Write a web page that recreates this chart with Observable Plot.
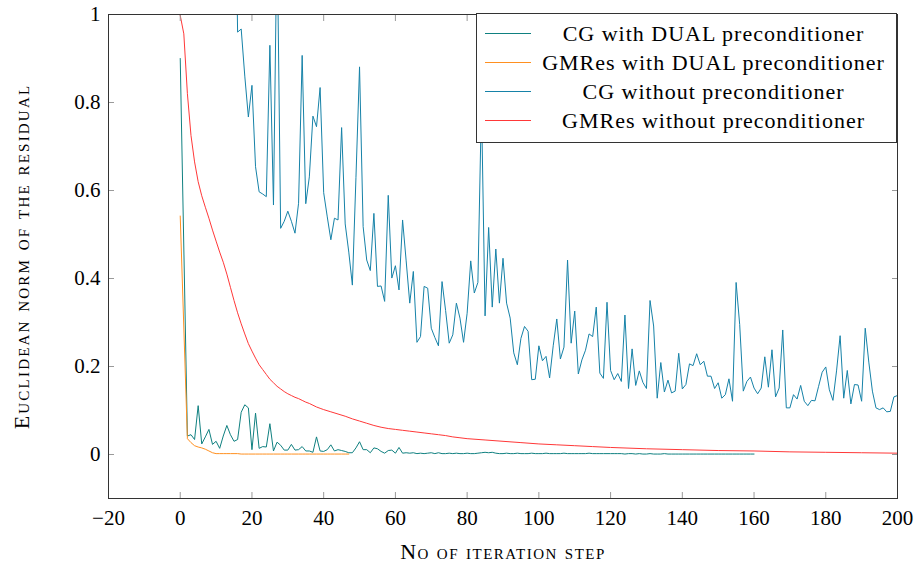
<!DOCTYPE html>
<html>
<head>
<meta charset="utf-8">
<script src="https://cdn.jsdelivr.net/npm/d3@7"></script>
<script src="https://cdn.jsdelivr.net/npm/@observablehq/plot@0.6"></script>
<style>
  html, body { margin: 0; padding: 0; background: #fff; }
  #wrap { position: relative; width: 917px; height: 566px; font-family: "Liberation Serif", serif; }
  #wrap svg text { font-family: "Liberation Serif", serif; }
  #legend { position: absolute; left: 476px; top: 13px; width: 421px; height: 130px; border: 1px solid #333; background: #fff; box-sizing: border-box; padding-top: 5px; }
  .row { display: flex; align-items: center; height: 29px; }
  .sample { width: 46px; margin-left: 8px; height: 0; border-top: 1.4px solid; }
  .lab { flex: 1; text-align: center; font-size: 22px; letter-spacing: 1px; color: #000; padding-left: 4px; padding-right: 4px; white-space: nowrap; }
</style>
</head>
<body>
<div id="wrap"></div>
<script>
// ---- tick labels / axis text ----
const xTicks = [-20, 0, 20, 40, 60, 80, 100, 120, 140, 160, 180, 200];
const yTicks = [0, 0.2, 0.4, 0.6, 0.8, 1];
const yTickLabels = ["0", "0.2", "0.4", "0.6", "0.8", "1"];
const xLabel = "No of iteration step";
const yLabel = "Euclidean norm of the residual";

// ---- series names / colours ----
const seriesNames = [
  "CG with DUAL preconditioner",
  "GMRes with DUAL preconditioner",
  "CG without preconditioner",
  "GMRes without preconditioner"
];
const seriesColors = ["#0f8080", "#ff9020", "#1682a8", "#ff3838"];

// ---- CG with DUAL preconditioner: step 0, then steps 2..160 ----
const cgDualSteps = [0, ...d3.range(2, 161)];
const cgDualValues = [
  0.900,
  0.042, 0.045, 0.034, 0.111, 0.024, 0.040, 0.057, 0.023, 0.030, 0.014,
  0.042, 0.066, 0.045, 0.030, 0.034, 0.096, 0.113, 0.106, 0.011, 0.094,
  0.014, 0.018, 0.017, 0.070, 0.008, 0.028, 0.021, 0.010, 0.010, 0.023,
  0.010, 0.011, 0.018, 0.008, 0.008, 0.005, 0.040, 0.008, 0.007, 0.011,
  0.022, 0.008, 0.011, 0.009, 0.007, 0.004, 0.004, 0.015, 0.029, 0.011,
  0.011, 0.004, 0.015, 0.013, 0.007, 0.003, 0.009, 0.010, 0.003, 0.016,
  0.003, 0.004, 0.003, 0.004, 0.002, 0.003, 0.002, 0.003, 0.004, 0.002,
  0.004, 0.002, 0.002, 0.003, 0.002, 0.003, 0.002, 0.002, 0.003, 0.002,
  0.002, 0.003, 0.004, 0.005, 0.004, 0.005, 0.003, 0.002, 0.002, 0.003,
  0.002, 0.002, 0.003, 0.002, 0.002, 0.002, 0.003, 0.002, 0.002, 0.002,
  0.003, 0.002, 0.002, 0.002, 0.002, 0.003, 0.002, 0.002, 0.002, 0.002,
  0.002, 0.002, 0.003, 0.002, 0.002, 0.002, 0.002, 0.002, 0.002, 0.002,
  0.002, 0.002, 0.001, 0.002, 0.002, 0.001, 0.002, 0.001, 0.001, 0.002,
  0.001, 0.001, 0.001, 0.002, 0.001, 0.001, 0.001, 0.001, 0.001, 0.001,
  0.001, 0.001, 0.001, 0.001, 0.001, 0.001, 0.001, 0.001, 0.001, 0.001,
  0.001, 0.001, 0.001, 0.001, 0.001, 0.001, 0.001, 0.001, 0.001
];

// ---- GMRes with DUAL preconditioner: step 0, then steps 2..47 ----
const gmDualSteps = [0, ...d3.range(2, 48)];
const gmDualValues = [
  0.542,
  0.036, 0.027, 0.020, 0.017, 0.015, 0.012, 0.008, 0.004, 0.002, 0.002,
  0.002, 0.002, 0.002, 0.002, 0.002, 0.001, 0.001, 0.001, 0.001, 0.001,
  0.001, 0.001, 0.001, 0.001, 0.001, 0.001, 0.001, 0.001, 0.001, 0.001,
  0.001, 0.001, 0.001, 0.001, 0.001, 0.001, 0.001, 0.001, 0.001, 0.001,
  0.001, 0.001, 0.001, 0.001, 0.001, 0.001
];

// ---- CG without preconditioner: steps 15..200 ----
const cgPlainSteps = d3.range(15, 201);
const cgPlainValues = [
  1.500, 0.960, 0.967, 0.860, 0.767, 0.839, 0.654, 0.597, 0.592, 0.586,   // 15-24
  0.930, 0.567, 1.200, 0.514, 0.530, 0.553, 0.530, 0.503, 0.571, 0.907,   // 25-34
  0.570, 0.631, 0.769, 0.745, 0.834, 0.595, 0.540, 0.488, 0.537, 0.533,   // 35-44
  0.743, 0.524, 0.460, 0.385, 0.630, 0.881, 0.518, 0.442, 0.418, 0.548,   // 45-54
  0.382, 0.383, 0.348, 0.589, 0.401, 0.429, 0.374, 0.533, 0.440, 0.344,   // 55-64
  0.416, 0.255, 0.268, 0.382, 0.378, 0.287, 0.266, 0.247, 0.393, 0.327,   // 65-74
  0.253, 0.272, 0.344, 0.310, 0.255, 0.321, 0.440, 0.367, 0.391, 0.800,   // 75-84
  0.315, 0.516, 0.335, 0.467, 0.344, 0.446, 0.344, 0.310, 0.231, 0.204,   // 85-94
  0.264, 0.291, 0.280, 0.170, 0.171, 0.247, 0.213, 0.223, 0.174, 0.247,   // 95-104
  0.308, 0.217, 0.244, 0.442, 0.253, 0.326, 0.183, 0.215, 0.237, 0.274,   // 105-114
  0.268, 0.335, 0.185, 0.173, 0.346, 0.191, 0.170, 0.184, 0.166, 0.317,   // 115-124
  0.150, 0.240, 0.157, 0.190, 0.164, 0.150, 0.350, 0.292, 0.128, 0.209,   // 125-134
  0.142, 0.169, 0.140, 0.144, 0.230, 0.149, 0.159, 0.206, 0.202, 0.229,   // 135-144
  0.204, 0.212, 0.178, 0.178, 0.150, 0.163, 0.128, 0.136, 0.172, 0.121,   // 145-154
  0.391, 0.295, 0.144, 0.166, 0.176, 0.151, 0.138, 0.151, 0.222, 0.153,   // 155-164
  0.238, 0.131, 0.151, 0.283, 0.106, 0.106, 0.136, 0.126, 0.157, 0.121,   // 165-174
  0.111, 0.123, 0.122, 0.155, 0.187, 0.199, 0.147, 0.123, 0.190, 0.270,   // 175-184
  0.128, 0.191, 0.115, 0.159, 0.158, 0.121, 0.287, 0.210, 0.144, 0.106,   // 185-194
  0.102, 0.106, 0.097, 0.098, 0.131, 0.134                                // 195-200
];

// ---- GMRes without preconditioner ----
const gmPlainSteps = [
  0, 1, 2, 3, 4, 5, 6, 7, 8, 9, 10, 11, 12, 13, 14, 15, 16, 17, 18, 19,
  20, 21, 22, 23, 24, 25, 26, 27, 28, 29, 30, 31, 32, 33, 34, 35, 36, 37, 38, 39,
  40, 42, 44, 46, 48, 50, 52, 54, 56, 58, 60, 62, 64, 66, 68, 70, 72, 74, 76, 78, 80,
  85, 90, 95, 100, 105, 110, 115, 120, 130, 140, 150, 160, 170, 180, 190, 200
];
const gmPlainValues = [
  0.998, 0.956, 0.820, 0.725, 0.665, 0.620, 0.588, 0.562, 0.537, 0.510,
  0.485, 0.460, 0.437, 0.410, 0.380, 0.350, 0.322, 0.297, 0.274, 0.252,
  0.235, 0.219, 0.204, 0.193, 0.182, 0.171, 0.163, 0.155, 0.149, 0.143,
  0.138, 0.134, 0.130, 0.127, 0.123, 0.119, 0.116, 0.112, 0.108, 0.105,
  0.102, 0.097, 0.092, 0.087, 0.081, 0.076, 0.071, 0.066, 0.062, 0.059, 0.057,
  0.055, 0.053, 0.051, 0.049, 0.047, 0.045, 0.043, 0.040, 0.038, 0.036,
  0.033, 0.030, 0.027, 0.024, 0.022, 0.020, 0.018, 0.016,
  0.013, 0.011, 0.009, 0.008, 0.006, 0.005, 0.004, 0.003
];

function zip(xs, ys) {
  const n = Math.min(xs.length, ys.length);
  return d3.range(n).map(i => ({x: xs[i], y: ys[i]}));
}
const series = [
  zip(cgDualSteps, cgDualValues),
  zip(gmDualSteps, gmDualValues),
  zip(cgPlainSteps, cgPlainValues),
  zip(gmPlainSteps, gmPlainValues)
];

const tickColor = "#9a9a9a";
const serif = "Liberation Serif, serif";
const yFmt = d => yTickLabels[yTicks.indexOf(d)] ?? String(d);

const chart = Plot.plot({
  width: 917,
  height: 566,
  marginLeft: 108,
  marginRight: 20,
  marginTop: 14,
  marginBottom: 68,
  x: {domain: [-20, 200]},
  y: {domain: [-0.1, 1]},
  style: {fontFamily: serif, fontSize: "21px", color: "#000", background: "#fff"},
  marks: [
    ...series.map((d, i) => Plot.line(d, {x: "x", y: "y", stroke: seriesColors[i], strokeWidth: 1, clip: true})),
    Plot.axisX(xTicks, {anchor: "bottom", tickSize: -6, fill: "none", stroke: tickColor, label: null}),
    Plot.axisX(xTicks, {anchor: "top", tickSize: -6, fill: "none", stroke: tickColor, label: null}),
    Plot.axisY(yTicks, {anchor: "left", tickSize: -6, fill: "none", stroke: tickColor, label: null}),
    Plot.axisY(yTicks, {anchor: "right", tickSize: -6, fill: "none", stroke: tickColor, label: null}),
    Plot.frame({stroke: "#333", strokeWidth: 1}),
    Plot.axisX(xTicks, {anchor: "bottom", tickSize: 0, tickPadding: 12, fontFamily: serif, fontVariant: "normal", label: xLabel, labelAnchor: "center", labelOffset: 60, labelArrow: "none"}),
    Plot.axisY(yTicks, {anchor: "left", tickSize: 0, tickPadding: 8, fontFamily: serif, fontVariant: "normal", tickFormat: yFmt, label: yLabel, labelAnchor: "center", labelOffset: 95, labelArrow: "none"})
  ]
});

const wrap = document.getElementById("wrap");
wrap.appendChild(chart);
chart.querySelectorAll('[aria-label="x-axis label"] text, [aria-label="y-axis label"] text').forEach(t => {
  t.style.fontVariant = "small-caps";
  t.style.fontSize = "22px";
});
chart.querySelectorAll('[aria-label="x-axis label"] text').forEach(t => { t.style.letterSpacing = "1.5px"; });
chart.querySelectorAll('[aria-label="y-axis label"] text').forEach(t => { t.style.letterSpacing = "2.2px"; });

// legend (boxed, over the plot, like the original)
const legend = document.createElement("div");
legend.id = "legend";
seriesNames.forEach((name, i) => {
  const row = document.createElement("div");
  row.className = "row";
  const s = document.createElement("div");
  s.className = "sample";
  s.style.borderTopColor = seriesColors[i];
  const l = document.createElement("div");
  l.className = "lab";
  l.textContent = name;
  row.appendChild(s);
  row.appendChild(l);
  legend.appendChild(row);
});
wrap.appendChild(legend);
</script>
</body>
</html>
